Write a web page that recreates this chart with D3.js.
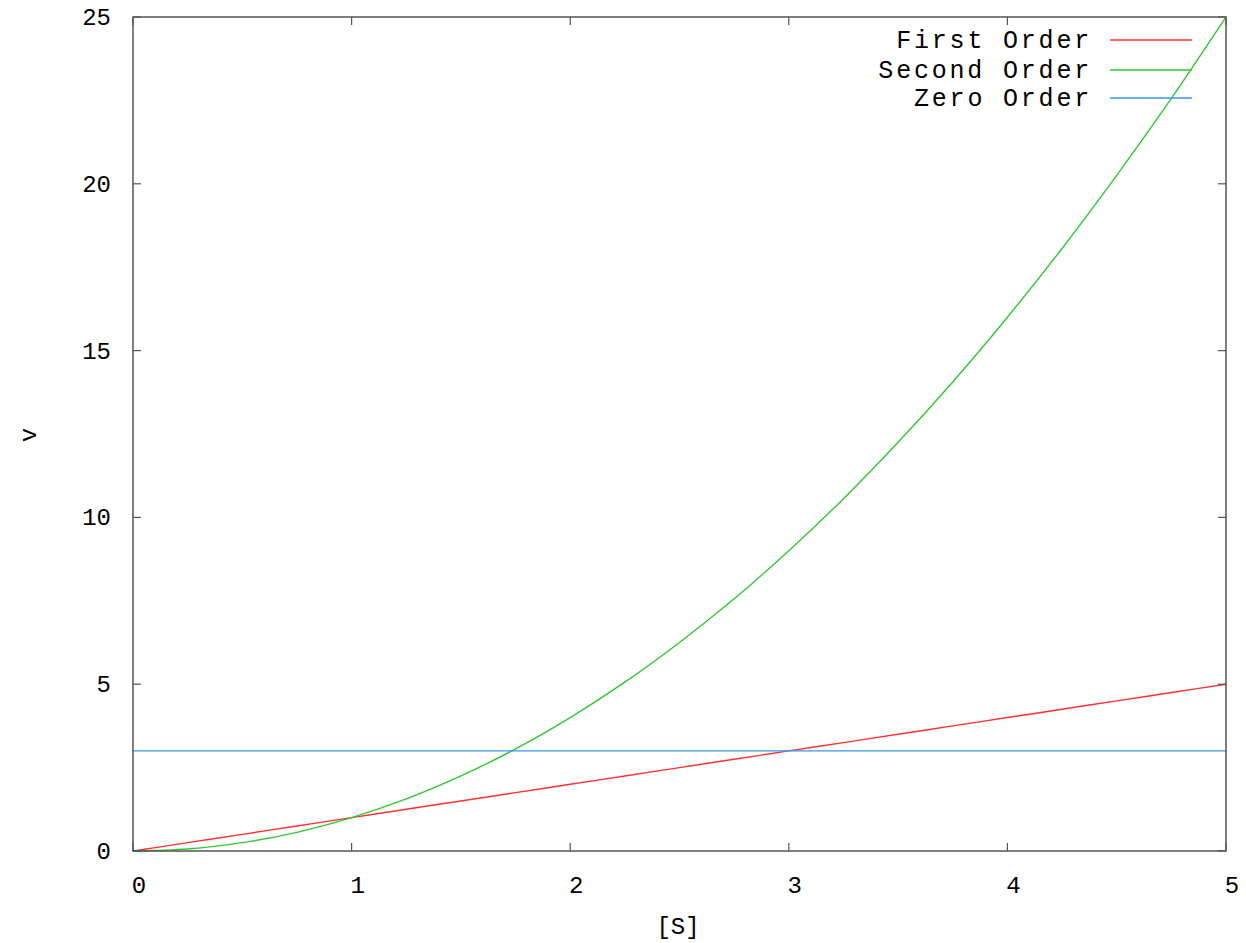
<!DOCTYPE html>
<html>
<head>
<meta charset="utf-8">
<script src="https://cdn.jsdelivr.net/npm/d3@7"></script>
<style>
  body { margin: 0; background: #fff; }
  text { font-family: "Liberation Mono", "DejaVu Sans Mono", monospace; fill: #000; }
</style>
</head>
<body>
<svg id="chart" width="1246" height="943"></svg>
<script>
// values
const sValues = [0, 0.25, 0.5, 0.75, 1, 1.25, 1.5, 1.75, 2, 2.25, 2.5, 2.75, 3, 3.25, 3.5, 3.75, 4, 4.25, 4.5, 4.75, 5];
const firstOrder = [0, 0.25, 0.5, 0.75, 1, 1.25, 1.5, 1.75, 2, 2.25, 2.5, 2.75, 3, 3.25, 3.5, 3.75, 4, 4.25, 4.5, 4.75, 5];
const secondOrder = [0, 0.06, 0.25, 0.56, 1, 1.56, 2.25, 3.06, 4, 5.06, 6.25, 7.56, 9, 10.56, 12.25, 14.06, 16, 18.06, 20.25, 22.56, 25];
const zeroOrder = [3, 3, 3, 3, 3, 3, 3, 3, 3, 3, 3, 3, 3, 3, 3, 3, 3, 3, 3, 3, 3];
const xTicks = [0, 1, 2, 3, 4, 5];
const yTicks = [0, 5, 10, 15, 20, 25];
const seriesNames = ["First Order", "Second Order", "Zero Order"];
const seriesColors = ["#ff3030", "#30c830", "#3399ee"];

const svg = d3.select("#chart");
const plotLeft = 133, plotRight = 1226, plotTop = 17, plotBottom = 851;

const x = d3.scaleLinear().domain([0, 5]).range([plotLeft, plotRight]);
const y = d3.scaleLinear().domain([0, 25]).range([plotBottom, plotTop]);

const series = [firstOrder, secondOrder, zeroOrder];

// lines
const line = d3.line()
  .x((d, i) => x(sValues[i]))
  .y(d => y(d))
  .curve(d3.curveMonotoneX);

series.forEach((vals, k) => {
  svg.append("path")
    .datum(vals)
    .attr("fill", "none")
    .attr("stroke", seriesColors[k])
    .attr("stroke-width", 1.4)
    .attr("d", line);
});

// frame
svg.append("rect")
  .attr("x", plotLeft).attr("y", plotTop)
  .attr("width", plotRight - plotLeft).attr("height", plotBottom - plotTop)
  .attr("fill", "none").attr("stroke", "#555").attr("stroke-width", 1.5);

// ticks, inward on all four sides
const tickLen = 8;
const g = svg.append("g").attr("stroke", "#555").attr("stroke-width", 1.2);
xTicks.forEach(t => {
  g.append("line").attr("x1", x(t)).attr("x2", x(t)).attr("y1", plotBottom).attr("y2", plotBottom - tickLen);
  g.append("line").attr("x1", x(t)).attr("x2", x(t)).attr("y1", plotTop).attr("y2", plotTop + tickLen);
});
yTicks.forEach(t => {
  g.append("line").attr("x1", plotLeft).attr("x2", plotLeft + tickLen).attr("y1", y(t)).attr("y2", y(t));
  g.append("line").attr("x1", plotRight).attr("x2", plotRight - tickLen).attr("y1", y(t)).attr("y2", y(t));
});

// tick labels
svg.append("g").selectAll("text").data(xTicks).join("text")
  .attr("x", d => x(d) + 6)
  .attr("y", 893)
  .attr("text-anchor", "middle")
  .attr("font-size", 24)
  .text(d => d);

svg.append("g").selectAll("text").data(yTicks).join("text")
  .attr("x", 111)
  .attr("y", d => y(d) + 8)
  .attr("text-anchor", "end")
  .attr("font-size", 24)
  .text(d => d);

// axis titles
svg.append("text")
  .attr("x", 678).attr("y", 934)
  .attr("text-anchor", "middle")
  .attr("font-size", 24)
  .text("[S]");

svg.append("text")
  .attr("transform", "translate(36,435) rotate(-90)")
  .attr("text-anchor", "middle")
  .attr("font-size", 24)
  .text("v");

// legend
const legendY = [40, 70, 98];
seriesNames.forEach((name, k) => {
  svg.append("text")
    .attr("x", 1092).attr("y", legendY[k] + 8)
    .attr("text-anchor", "end")
    .attr("font-size", 25)
    .attr("letter-spacing", 2.8)
    .text(name);
  svg.append("line")
    .attr("x1", 1110).attr("x2", 1192)
    .attr("y1", legendY[k]).attr("y2", legendY[k])
    .attr("stroke", seriesColors[k]).attr("stroke-width", 1.4);
});
</script>
</body>
</html>
